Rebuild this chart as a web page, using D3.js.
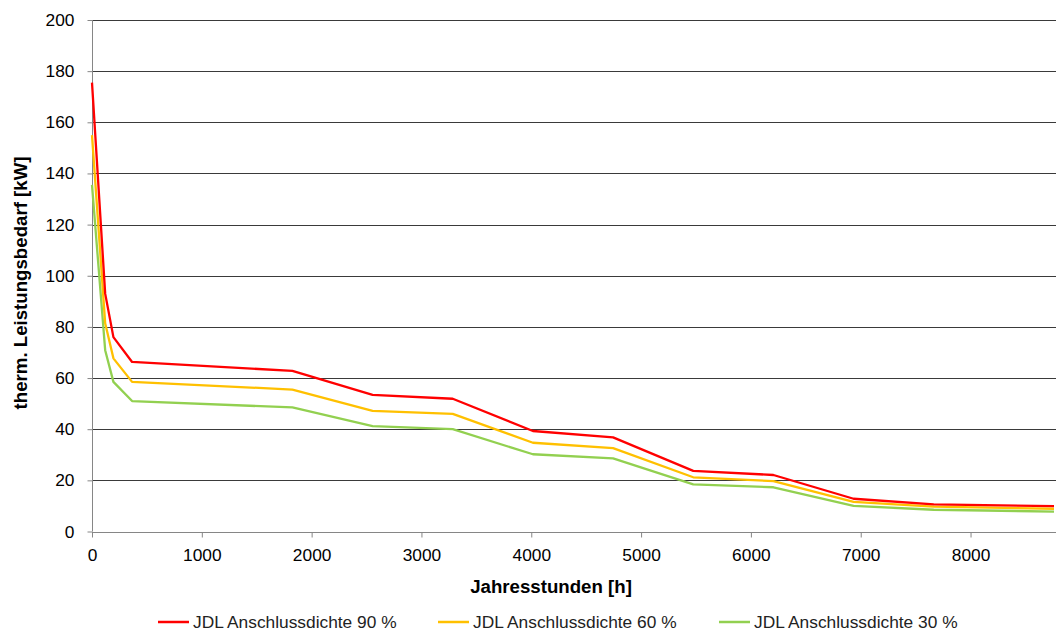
<!DOCTYPE html>
<html>
<head>
<meta charset="utf-8">
<script src="https://cdn.jsdelivr.net/npm/d3@7"></script>
<style>
  body { margin: 0; background: #fff; }
  text { font-family: "Liberation Sans", Arial, sans-serif; }
</style>
</head>
<body>
<script>
'use strict';

// hours of the year (x values shared by all series)
const hours = [0, 120, 195, 365, 1825, 2555, 3285, 4015, 4745, 5475, 6205, 6935, 7665, 8760];

// thermal power demand [kW]
const jdl90 = [175.5, 93, 76, 66.3, 62.8, 53.4, 51.9, 39.3, 36.8, 23.7, 22.1, 12.8, 10.6, 9.9];
const jdl60 = [155, 81.4, 67.7, 58.5, 55.5, 47.2, 46, 34.7, 32.6, 21.2, 19.7, 11.6, 9.7, 8.9];
const jdl30 = [135.5, 70.9, 58.5, 51, 48.5, 41.2, 40, 30.2, 28.6, 18.4, 17.3, 10, 8.5, 7.8];

const seriesNames = ['JDL Anschlussdichte 90 %', 'JDL Anschlussdichte 60 %', 'JDL Anschlussdichte 30 %'];
const seriesColors = ['#ff0000', '#ffc000', '#92d050'];

const xTicks = [0, 1000, 2000, 3000, 4000, 5000, 6000, 7000, 8000];
const yTicks = [0, 20, 40, 60, 80, 100, 120, 140, 160, 180, 200];

const width = 1056, height = 632;

let svg = d3.select('body')
  .append('svg')
  .attr('width', width)
  .attr('height', height);

// scales
let xScale = d3.scaleLinear().domain([0, 8760]).range([92, 1054]);
let yScale = d3.scaleLinear().domain([0, 200]).range([531.5, 20]);

// horizontal gridlines
svg.append('g')
  .selectAll('line')
  .data(yTicks.slice(1))
  .enter()
  .append('line')
  .attr('x1', xScale(0))
  .attr('x2', width)
  .attr('y1', d => Math.round(yScale(d)) + 0.5)
  .attr('y2', d => Math.round(yScale(d)) + 0.5)
  .attr('stroke', '#3a3a3a')
  .attr('stroke-width', 1);

// x axis
let xAxis = d3.axisBottom(xScale).tickValues(xTicks).tickFormat(d3.format('d')).tickSize(5).tickPadding(11.5);
let gx = svg.append('g')
  .attr('transform', 'translate(0,' + (Math.round(yScale(0)) + 0.5) + ')')
  .call(xAxis);
gx.select('.domain').attr('stroke', '#868686').attr('d', 'M' + xScale(0) + ',0H' + width);
gx.selectAll('.tick line').attr('stroke', '#868686');
gx.selectAll('.tick text')
  .style('font-size', '17.33px')
  .attr('fill', '#000');

// y axis
let yAxis = d3.axisLeft(yScale).tickValues(yTicks).tickSize(5).tickPadding(13);
let gy = svg.append('g')
  .attr('transform', 'translate(' + (Math.round(xScale(0)) + 0.5) + ',0)')
  .call(yAxis);
gy.select('.domain').attr('stroke', '#868686').attr('d', 'M0,' + yScale(200) + 'V' + yScale(0));
gy.selectAll('.tick line').attr('stroke', '#868686');
gy.selectAll('.tick text')
  .style('font-size', '17.33px')
  .attr('fill', '#000');

// lines
let allSeries = [jdl90, jdl60, jdl30];
let line = d3.line()
  .x((d, i) => xScale(hours[i]))
  .y(d => yScale(d));

// draw green first so red is on top
for (let s = allSeries.length - 1; s >= 0; s--) {
  svg.append('path')
    .datum(allSeries[s])
    .attr('d', line)
    .attr('fill', 'none')
    .attr('stroke', seriesColors[s])
    .attr('stroke-width', 2.3)
    .attr('stroke-linejoin', 'round');
}

// axis titles
svg.append('text')
  .attr('x', 551)
  .attr('y', 593)
  .attr('text-anchor', 'middle')
  .style('font-size', '18.67px')
  .style('font-weight', 'bold')
  .text('Jahresstunden [h]');

svg.append('text')
  .attr('transform', 'translate(27,283)rotate(-90)')
  .attr('text-anchor', 'middle')
  .style('font-size', '18.67px')
  .style('font-weight', 'bold')
  .text('therm. Leistungsbedarf [kW]');

// legend
const legendX = [158, 438, 719];
let legend = svg.append('g')
  .selectAll('g')
  .data(seriesNames)
  .enter()
  .append('g')
  .attr('transform', (d, i) => 'translate(' + legendX[i] + ',622)');

legend.append('line')
  .attr('x1', 0)
  .attr('x2', 31)
  .attr('stroke', (d, i) => seriesColors[i])
  .attr('stroke-width', 2.5);

legend.append('text')
  .attr('x', 35)
  .attr('y', 6)
  .style('font-size', '17.33px')
  .attr('fill', '#222')
  .text(d => d);
</script>
</body>
</html>
